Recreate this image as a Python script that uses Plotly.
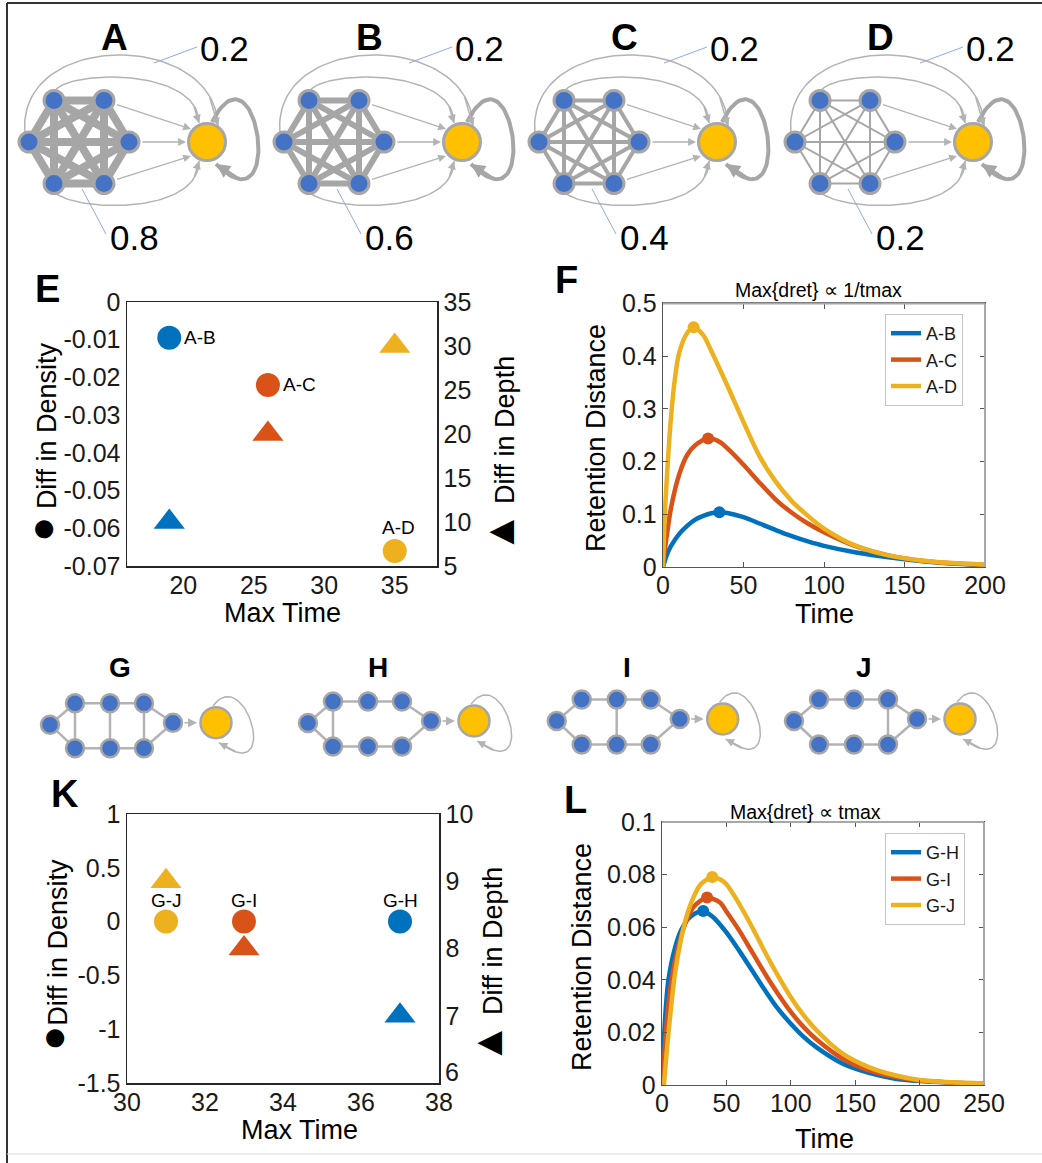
import itertools
import numpy as np
import plotly.graph_objects as go

W, H = 1042, 1163
FONT = "Liberation Sans, Arial, Helvetica, sans-serif"

# ------------------------------------------------------------------ data
series_colors = ["#0072BD", "#D95319", "#EDB120"]

# Panel E
e_pairs = ["A-B", "A-C", "A-D"]
e_max_time = [19, 26, 35]
e_diff_density = [-0.0095, -0.022, -0.066]
e_diff_depth = [10, 20, 30]
e_xticks = [20, 25, 30, 35]
e_yticks = [0, -0.01, -0.02, -0.03, -0.04, -0.05, -0.06, -0.07]
e_yticktext = ["0", "-0.01", "-0.02", "-0.03", "-0.04", "-0.05", "-0.06", "-0.07"]
e_y2ticks = [5, 10, 15, 20, 25, 30, 35]

# Panel F
f_labels = ["A-B", "A-C", "A-D"]
f_time_ab = [0, 2.5, 5, 10, 15, 20, 25, 30, 35, 40, 50, 60, 70, 80, 90, 100, 120, 140, 160, 180, 200]
f_ret_ab = [0, 0.024, 0.04, 0.0625, 0.078, 0.09, 0.097, 0.102, 0.104, 0.1025, 0.0945, 0.0825, 0.070,
            0.0585, 0.0485, 0.040, 0.0275, 0.0185, 0.0115, 0.0065, 0.003]
f_time_ac = [0, 1, 2.5, 5, 10, 15, 20, 28, 35, 40, 50, 60, 70, 80, 90, 100, 120, 140, 160, 180, 200]
f_ret_ac = [0, 0.03, 0.0625, 0.1125, 0.175, 0.2125, 0.231, 0.244, 0.2375, 0.225, 0.194, 0.16, 0.128,
            0.103, 0.0825, 0.066, 0.039, 0.022, 0.012, 0.007, 0.004]
f_time_ad = [0, 1, 2.5, 5, 7.5, 10, 15, 19, 25, 30, 40, 50, 60, 70, 80, 90, 100, 120, 140, 160, 180, 200]
f_ret_ad = [0, 0.09, 0.175, 0.285, 0.36, 0.406, 0.444, 0.455, 0.44, 0.41, 0.344, 0.275, 0.21, 0.162,
            0.125, 0.097, 0.073, 0.04, 0.022, 0.0125, 0.0075, 0.0045]
f_peak_time = [35, 28, 19]
f_peak_ret = [0.104, 0.244, 0.455]
f_xticks = [0, 50, 100, 150, 200]
f_yticks = [0, 0.1, 0.2, 0.3, 0.4, 0.5]
f_yticktext = ["0", "0.1", "0.2", "0.3", "0.4", "0.5"]
f_title = "Max{dret} \u221d 1/tmax"

# Panel K
k_pairs = ["G-H", "G-I", "G-J"]
k_max_time = [37, 33, 31]
k_diff_density = [0, 0, 0]
k_diff_depth = [7, 8, 9]
k_xticks = [30, 32, 34, 36, 38]
k_yticks = [1, 0.5, 0, -0.5, -1, -1.5]
k_yticktext = ["1", "0.5", "0", "-0.5", "-1", "-1.5"]
k_y2ticks = [6, 7, 8, 9, 10]

# Panel L
l_labels = ["G-H", "G-I", "G-J"]
l_time_gh = [0, 2.5, 5, 10, 15, 20, 25, 32, 40, 50, 60, 70, 80, 90, 100, 110, 120, 140, 160, 180, 200, 225, 250]
l_ret_gh = [0, 0.026, 0.04, 0.052, 0.059, 0.063, 0.065, 0.0662, 0.0637, 0.058, 0.051, 0.0435, 0.036,
            0.029, 0.0233, 0.0183, 0.0143, 0.0082, 0.0047, 0.0025, 0.0015, 0.0009, 0.0005]
l_time_gi = [0, 2.5, 5, 10, 15, 20, 25, 35, 45, 50, 60, 70, 80, 90, 100, 110, 120, 140, 160, 180, 200, 225, 250]
l_ret_gi = [0, 0.016, 0.031, 0.047, 0.057, 0.0637, 0.068, 0.0713, 0.0694, 0.066, 0.0587, 0.0505, 0.0423,
            0.0347, 0.0278, 0.022, 0.0173, 0.0101, 0.0057, 0.0032, 0.0017, 0.0009, 0.0005]
l_time_gj = [1.5, 5, 10, 15, 20, 25, 30, 39, 45, 50, 60, 70, 80, 90, 100, 110, 120, 140, 160, 180, 200, 225, 250]
l_ret_gj = [0, 0.0196, 0.042, 0.056, 0.0656, 0.072, 0.0763, 0.0791, 0.0782, 0.0763, 0.0688, 0.06, 0.0505,
            0.0416, 0.0334, 0.0265, 0.0208, 0.012, 0.0069, 0.0038, 0.0019, 0.001, 0.0006]
l_peak_time = [32, 35, 39]
l_peak_ret = [0.0662, 0.0713, 0.0791]
l_xticks = [0, 50, 100, 150, 200, 250]
l_yticks = [0, 0.02, 0.04, 0.06, 0.08, 0.1]
l_yticktext = ["0", "0.02", "0.04", "0.06", "0.08", "0.1"]
l_title = "Max{dret} \u221d tmax"

# Network panels
top_names = ["A", "B", "C", "D"]
top_hex_weight = [0.8, 0.6, 0.4, 0.2]
top_out_weight = [0.2, 0.2, 0.2, 0.2]
bottom_names = ["G", "H", "I", "J"]
bottom_base_edges = [(0, 1), (0, 4), (1, 2), (2, 3), (4, 5), (5, 6), (3, 7), (6, 7)]
bottom_rungs = [[0, 1, 2], [0], [1], [2]]

# ------------------------------------------------------------------ styles / geometry
EDGE = "#a6a6a6"
ARC = "#b3b3b3"
NODE_BLUE = "#4472C4"
NODE_YELLOW = "#FFC000"
LEADER = "#8FAADC"
NX, NY = "x5", "y7"

top_yellow_x = [207, 462, 717, 973]
top_y = 142
bottom_yellow = [(216, 722.7), (474, 721), (722.7, 719), (960, 719)]


def px(x):
    return x / W


def py(y):
    return 1 - y / H


def bez(p0, p1, p2, p3, n=60):
    t = np.linspace(0, 1, n)[:, None]
    p0, p1, p2, p3 = map(np.array, (p0, p1, p2, p3))
    pts = (1 - t) ** 3 * p0 + 3 * (1 - t) ** 2 * t * p1 + 3 * (1 - t) * t ** 2 * p2 + t ** 3 * p3
    return pts[:, 0], pts[:, 1]


fig = go.Figure()
ann = []
shapes = []


def arrow(x0, y0, x1, y1, width, color, size=1.0):
    ann.append(dict(x=x1, y=y1, ax=x0, ay=y0, xref=NX, yref=NY, axref=NX, ayref=NY, text="",
                    showarrow=True, arrowhead=2, arrowsize=size, arrowwidth=width,
                    arrowcolor=color, standoff=0, startstandoff=0))


def net_line(xs, ys, width, color):
    fig.add_trace(go.Scatter(x=xs, y=ys, mode="lines", line=dict(color=color, width=width),
                             xaxis=NX, yaxis=NY, showlegend=False, hoverinfo="skip"))


def curve_with_head(p0, p1, p2, p3, width, color, size):
    xs, ys = bez(p0, p1, p2, p3)
    net_line(xs, ys, width, color)
    arrow(xs[-8], ys[-8], xs[-1], ys[-1], width, color, size)


# ---------------- top networks (A-D)
for i, name in enumerate(top_names):
    cx, cy = top_yellow_x[i], top_y
    hx = cx - 128
    angs = np.deg2rad([120, 60, 180, 0, 240, 300])  # TL, TR, L, R, BL, BR
    nxs = hx + 50 * np.cos(angs)
    nys = cy - 48 * np.sin(angs)
    # curved arcs
    curve_with_head((cx - 182, cy - 8), (cx - 192, cy - 112), (cx + 8, cy - 112), (cx + 11, cy - 16), 1.5, ARC, 1.1)
    curve_with_head((nxs[0], nys[0] - 8), (nxs[0] + 8, cy - 72), (cx - 8, cy - 76), (cx - 8, cy - 19), 1.5, ARC, 1.1)
    curve_with_head((nxs[4], nys[4] + 8), (nxs[4] + 18, cy + 70), (cx - 8, cy + 74), (cx - 8, cy + 19), 1.5, ARC, 1.1)
    # hexagon edges
    ex, ey = [], []
    for a, b in itertools.combinations(range(6), 2):
        ex += [nxs[a], nxs[b], None]
        ey += [nys[a], nys[b], None]
    net_line(ex, ey, 10 * top_hex_weight[i], EDGE)
    # self loop
    curve_with_head((cx + 5, cy - 20), (cx + 50, cy - 108), (cx + 80, cy + 92), (cx + 9, cy + 22), 4, EDGE, 0.7)
    # straight arrows
    for k, tip in zip([1, 3, 5], [(cx - 16, cy - 13), (cx - 21, cy), (cx - 16, cy + 14)]):
        dx, dy = tip[0] - nxs[k], tip[1] - nys[k]
        d = np.hypot(dx, dy)
        arrow(nxs[k] + dx / d * 12, nys[k] + dy / d * 12, tip[0], tip[1], 1.3, ARC, 1.2)
    # nodes
    fig.add_trace(go.Scatter(x=nxs, y=nys, mode="markers", xaxis=NX, yaxis=NY, showlegend=False,
                             marker=dict(size=20, color=NODE_BLUE, line=dict(color=EDGE, width=3)),
                             hoverinfo="skip"))
    fig.add_trace(go.Scatter(x=[cx], y=[cy], mode="markers", xaxis=NX, yaxis=NY, showlegend=False,
                             marker=dict(size=37, color=NODE_YELLOW, line=dict(color=EDGE, width=3)),
                             hoverinfo="skip"))
    # leaders and labels
    net_line([cx - 53, cx - 10], [63, 47], 1, LEADER)
    net_line([cx - 125, cx - 101], [189, 234], 1, LEADER)
    ann.append(dict(x=cx - 93, y=37, xref=NX, yref=NY, text=f"<b>{name}</b>", showarrow=False,
                    font=dict(size=37, color="black", family=FONT)))
    ann.append(dict(x=cx + 17, y=48, xref=NX, yref=NY, text=f"{top_out_weight[i]:.1f}", showarrow=False,
                    font=dict(size=35, color="black", family=FONT)))
    ann.append(dict(x=cx - 73, y=237, xref=NX, yref=NY, text=f"{top_hex_weight[i]:.1f}", showarrow=False,
                    font=dict(size=35, color="black", family=FONT)))

# ---------------- bottom networks (G-J)
for i, name in enumerate(bottom_names):
    cx, cy = bottom_yellow[i]
    rel = [(-166, 2), (-141, -19.5), (-106, -19.5), (-72, -19.5), (-141, 25.5), (-106, 25.5), (-72, 25.5), (-43, 0)]
    nxs = np.array([cx + r[0] for r in rel])
    nys = np.array([cy + r[1] for r in rel])
    edges = bottom_base_edges + [(1 + k, 4 + k) for k in bottom_rungs[i]]
    ex, ey = [], []
    for a, b in edges:
        ex += [nxs[a], nxs[b], None]
        ey += [nys[a], nys[b], None]
    net_line(ex, ey, 2.5, ARC)
    curve_with_head((cx - 3, cy - 17), (cx + 30, cy - 60), (cx + 66, cy + 66), (cx + 3, cy + 20), 1.5, ARC, 1.1)
    arrow(nxs[7] + 10, nys[7], cx - 19, cy, 1.5, ARC, 1.2)
    fig.add_trace(go.Scatter(x=nxs, y=nys, mode="markers", xaxis=NX, yaxis=NY, showlegend=False,
                             marker=dict(size=18, color=NODE_BLUE, line=dict(color=EDGE, width=2.5)),
                             hoverinfo="skip"))
    fig.add_trace(go.Scatter(x=[cx], y=[cy], mode="markers", xaxis=NX, yaxis=NY, showlegend=False,
                             marker=dict(size=31, color=NODE_YELLOW, line=dict(color=EDGE, width=2.5)),
                             hoverinfo="skip"))
    ann.append(dict(x=cx - 96, y=667, xref=NX, yref=NY, text=f"<b>{name}</b>", showarrow=False,
                    font=dict(size=28, color="black", family=FONT)))

# ---------------- panel E
fig.add_trace(go.Scatter(x=e_max_time, y=e_diff_density, mode="markers", xaxis="x", yaxis="y",
                         marker=dict(symbol="circle", size=24, color=series_colors), showlegend=False,
                         cliponaxis=False))
fig.add_trace(go.Scatter(x=e_max_time, y=e_diff_depth, mode="markers", xaxis="x", yaxis="y2",
                         marker=dict(symbol="triangle-up", size=27, color=series_colors), showlegend=False,
                         cliponaxis=False))
for i, lab in enumerate(e_pairs):
    if i < 2:
        ann.append(dict(x=e_max_time[i], y=e_diff_density[i], xref="x", yref="y", text=lab, showarrow=False,
                        xanchor="left", xshift=13, font=dict(size=19, color="black", family=FONT)))
    else:
        ann.append(dict(x=e_max_time[i], y=e_diff_density[i], xref="x", yref="y", text=lab, showarrow=False,
                        yanchor="bottom", yshift=11, xshift=4, font=dict(size=19, color="black", family=FONT)))

# ---------------- panel F
f_times = [f_time_ab, f_time_ac, f_time_ad]
f_rets = [f_ret_ab, f_ret_ac, f_ret_ad]
for i in range(3):
    fig.add_trace(go.Scatter(x=f_times[i], y=f_rets[i], mode="lines", name=f_labels[i], xaxis="x2", yaxis="y3",
                             line=dict(color=series_colors[i], width=4.5, shape="spline", smoothing=0.8),
                             legend="legend"))
fig.add_trace(go.Scatter(x=f_peak_time, y=f_peak_ret, mode="markers", xaxis="x2", yaxis="y3", showlegend=False,
                         marker=dict(size=12, color=series_colors), cliponaxis=False))

# ---------------- panel K
fig.add_trace(go.Scatter(x=k_max_time, y=k_diff_density, mode="markers", xaxis="x3", yaxis="y4",
                         marker=dict(symbol="circle", size=24, color=series_colors), showlegend=False,
                         cliponaxis=False))
fig.add_trace(go.Scatter(x=k_max_time, y=k_diff_depth, mode="markers", xaxis="x3", yaxis="y5",
                         marker=dict(symbol="triangle-up", size=27, color=series_colors), showlegend=False,
                         cliponaxis=False))
for i, lab in enumerate(k_pairs):
    ann.append(dict(x=k_max_time[i], y=k_diff_density[i], xref="x3", yref="y4", text=lab, showarrow=False,
                    yanchor="bottom", yshift=9, font=dict(size=19, color="black", family=FONT)))

# ---------------- panel L
l_times = [l_time_gh, l_time_gi, l_time_gj]
l_rets = [l_ret_gh, l_ret_gi, l_ret_gj]
for i in range(3):
    fig.add_trace(go.Scatter(x=l_times[i], y=l_rets[i], mode="lines", name=l_labels[i], xaxis="x4", yaxis="y6",
                             line=dict(color=series_colors[i], width=4.5, shape="spline", smoothing=0.8),
                             legend="legend2"))
fig.add_trace(go.Scatter(x=l_peak_time, y=l_peak_ret, mode="markers", xaxis="x4", yaxis="y6", showlegend=False,
                         marker=dict(size=12, color=series_colors), cliponaxis=False))

# ------------------------------------------------------------------ axes
TICKF = dict(size=25, color="#1a1a1a", family=FONT)
BOX = "#262626"


def box_axis(**kw):
    d = dict(showgrid=False, zeroline=False, showline=True, linecolor=BOX, linewidth=1.5,
             ticks="", tickfont=TICKF, fixedrange=True, automargin=False)
    d.update(kw)
    return d


def mat_axis(**kw):
    d = dict(showgrid=False, zeroline=False, showline=True, linecolor="#555555", linewidth=1.3,
             mirror="ticks", ticks="inside", ticklen=5, tickcolor="#555555", tickfont=TICKF,
             fixedrange=True, automargin=False)
    d.update(kw)
    return d


# K right axis: the lowest label is lifted above the corner (as in the original), drawn separately
k_y2ticktext = [str(v) for v in k_y2ticks]
k_y2ticktext[0] = ""
ann.append(dict(x=1, y=k_y2ticks[0], xref="x3 domain", yref="y5", text=str(k_y2ticks[0]), showarrow=False,
                xanchor="left", yanchor="middle", xshift=4, yshift=11, font=TICKF))

LEGF = dict(size=18, family=FONT, color="#1a1a1a")
layout = dict(
    width=W, height=H, margin=dict(l=0, r=0, t=0, b=0, pad=0, autoexpand=False),
    autosize=False,
    paper_bgcolor="white", plot_bgcolor="rgba(0,0,0,0)",
    font=dict(family=FONT, color="black"),
    showlegend=True,
    # E
    xaxis=box_axis(domain=[px(127), px(437)], range=[16, 38], tickvals=e_xticks, mirror=True, anchor="y",
                   ticklabelstandoff=-4),
    yaxis=box_axis(domain=[py(566), py(302)], range=[-0.07, 0], tickvals=e_yticks, ticktext=e_yticktext,
                   anchor="x"),
    yaxis2=box_axis(overlaying="y", side="right", range=[5, 35], tickvals=e_y2ticks, anchor="x"),
    # F
    xaxis2=mat_axis(domain=[px(663), px(985)], range=[0, 200], tickvals=f_xticks, anchor="y3",
                    ticklabelstandoff=-4),
    yaxis3=mat_axis(domain=[py(567), py(303.5)], range=[0, 0.5], tickvals=f_yticks, ticktext=f_yticktext,
                    anchor="x2"),
    # K
    xaxis3=box_axis(domain=[px(127), px(439)], range=[30, 38], tickvals=k_xticks, mirror=True, anchor="y4",
                    ticklabelstandoff=-4),
    yaxis4=box_axis(domain=[py(1083), py(814)], range=[-1.5, 1], tickvals=k_yticks, ticktext=k_yticktext,
                    anchor="x3"),
    yaxis5=box_axis(overlaying="y4", side="right", range=[6, 10], tickvals=k_y2ticks, ticktext=k_y2ticktext,
                    anchor="x3"),
    # L
    xaxis4=mat_axis(domain=[px(662), px(984)], range=[0, 250], tickvals=l_xticks, anchor="y6",
                    ticklabelstandoff=-4),
    yaxis6=mat_axis(domain=[py(1085), py(822)], range=[0, 0.1], tickvals=l_yticks, ticktext=l_yticktext,
                    anchor="x4"),
    # network canvas
    xaxis5=dict(domain=[0, 1], range=[0, W], visible=False, fixedrange=True, anchor="y7", automargin=False),
    yaxis7=dict(domain=[0, 1], range=[H, 0], visible=False, fixedrange=True, anchor="x5", automargin=False),
    legend=dict(x=px(885), y=py(314), xanchor="left", yanchor="top", bgcolor="white",
                bordercolor="#c4c4c4", borderwidth=1, font=LEGF, tracegroupgap=0),
    legend2=dict(x=px(885), y=py(833), xanchor="left", yanchor="top", bgcolor="white",
                 bordercolor="#c4c4c4", borderwidth=1, font=LEGF, tracegroupgap=0),
)

# axis titles, panel letters, plot titles (paper coords)
TITLEF = dict(size=27, color="black", family=FONT)
SYM = "<span style='font-size:42px'>{}</span>"


def ptext(x, y, text, font, angle=0):
    ann.append(dict(x=px(x), y=py(y), xref="paper", yref="paper", text=text, showarrow=False,
                    textangle=angle, font=font, xanchor="center", yanchor="middle"))


ptext(282, 613, "Max Time", TITLEF)
ptext(41, 443, SYM.format("\u25cf") + " Diff in Density", TITLEF, -90)
ptext(499, 455, SYM.format("\u25b2") + " Diff in Depth", TITLEF, -90)
ptext(299, 1130, "Max Time", TITLEF)
ptext(52, 955, SYM.format("\u25cf") + "Diff in Density", TITLEF, -90)
ptext(487, 966, SYM.format("\u25b2") + " Diff in Depth", TITLEF, -90)
ptext(596, 438, "Retention Distance", TITLEF, -90)
ptext(824, 614, "Time", TITLEF)
ptext(582, 957, "Retention Distance", TITLEF, -90)
ptext(824, 1139, "Time", TITLEF)
ptext(818, 290, f_title, dict(size=19.5, color="black", family=FONT))
ptext(805, 812, l_title, dict(size=19.5, color="black", family=FONT))
LETF = dict(size=38, color="black", family=FONT)
ptext(47, 289, "<b>E</b>", LETF)
ptext(566, 280, "<b>F</b>", LETF)
ptext(65, 794, "<b>K</b>", LETF)
ptext(575, 800, "<b>L</b>", LETF)

# lighter top / right box edges of the line plots (F and L)
for xa, ya in [("x2", "y3"), ("x4", "y6")]:
    shapes.append(dict(type="line", xref=f"{xa} domain", yref=f"{ya} domain", x0=0, x1=1, y0=1, y1=1,
                       line=dict(color="#a8a8a8", width=2), layer="above"))
    shapes.append(dict(type="line", xref=f"{xa} domain", yref=f"{ya} domain", x0=1, x1=1, y0=0, y1=1,
                       line=dict(color="#a8a8a8", width=2), layer="above"))

# frame
shapes.append(dict(type="line", xref="paper", yref="paper", x0=px(7), x1=px(7), y0=py(3), y1=0,
                   line=dict(color="#333333", width=2)))
shapes.append(dict(type="line", xref="paper", yref="paper", x0=px(7), x1=1, y0=py(3), y1=py(3),
                   line=dict(color="#333333", width=2)))
shapes.append(dict(type="line", xref="paper", yref="paper", x0=px(7), x1=1, y0=py(1154), y1=py(1154),
                   line=dict(color="#dddddd", width=1)))

layout["annotations"] = ann
layout["shapes"] = shapes
fig.update_layout(**layout)
fig.write_html("out.html", config={"displayModeBar": False, "staticPlot": True},
               post_script="document.body.style.margin='0px';document.body.style.overflow='hidden';")
